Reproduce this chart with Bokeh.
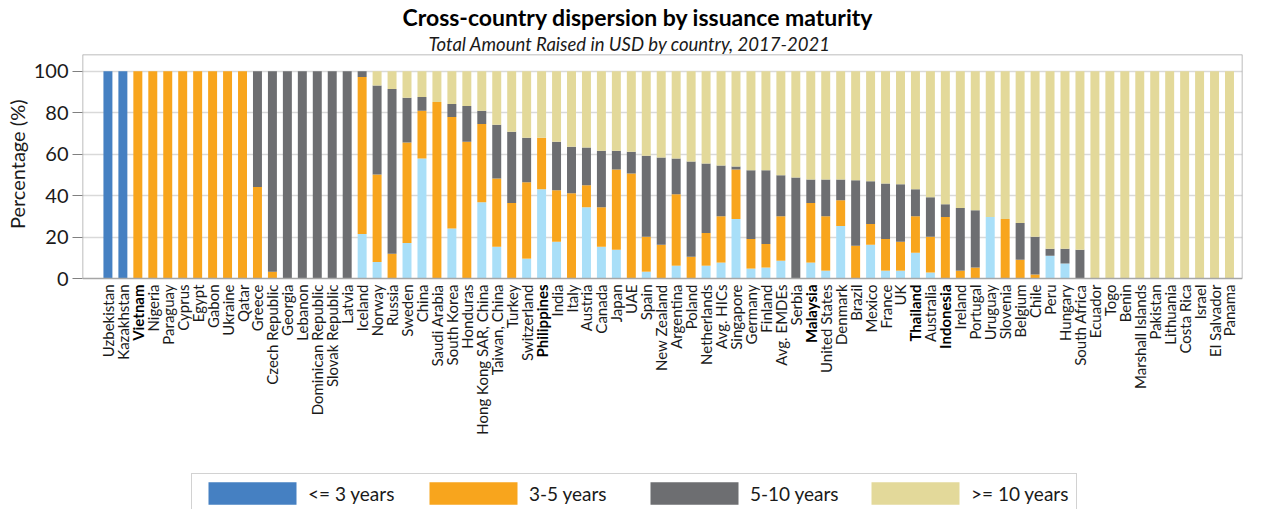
import math
from bokeh.plotting import figure
from bokeh.models import (ColumnDataSource, Range1d, FixedTicker, Title, Legend, LegendItem)
from bokeh.core.properties import value
from bokeh.embed import file_html
from bokeh.resources import INLINE

countries = ["Uzbekistan", "Kazakhstan", "Vietnam", "Nigeria", "Paraguay", "Cyprus", "Egypt",
             "Gabon", "Ukraine", "Qatar", "Greece", "Czech Republic", "Georgia", "Lebanon",
             "Dominican Republic", "Slovak Republic", "Latvia", "Iceland", "Norway", "Russia",
             "Sweden", "China", "Saudi Arabia", "South Korea", "Honduras", "Hong Kong SAR, China",
             "Taiwan, China", "Turkey", "Switzerland", "Philippines", "India", "Italy", "Austria",
             "Canada", "Japan", "UAE", "Spain", "New Zealand", "Argentina", "Poland",
             "Netherlands", "Avg. HICs", "Singapore", "Germany", "Finland", "Avg. EMDEs",
             "Serbia", "Malaysia", "United States", "Denmark", "Brazil", "Mexico", "France",
             "UK", "Thailand", "Australia", "Indonesia", "Ireland", "Portugal", "Uruguay",
             "Slovenia", "Belgium", "Chile", "Peru", "Hungary", "South Africa", "Ecuador",
             "Togo", "Benin", "Marshall Islands", "Pakistan", "Lithuania", "Costa Rica",
             "Israel", "El Salvador", "Panama"]
bold_countries = ["Vietnam", "Philippines", "Malaysia", "Thailand", "Indonesia"]

le3 = [100, 100, 0, 0, 0, 0, 0, 0, 0, 0, 0, 0, 0, 0, 0, 0, 0, 21.5, 8.0, 0,
       17.1, 57.9, 0, 24.1, 0, 36.8, 15.3, 0, 9.6, 43.1, 17.7, 0, 34.4, 15.3, 13.9, 0,
       3.3, 0, 6.2, 0, 6.2, 7.7, 28.7, 4.8, 5.3, 8.6, 0, 7.7, 3.8, 25.4, 0, 16.3, 3.8,
       3.8, 12.4, 2.9, 0, 0, 0, 29.7, 0, 0, 0, 11.0, 7.2, 0, 0, 0, 0, 0, 0, 0, 0, 0, 0, 0]
y3to5 = [0, 0, 100, 100, 100, 100, 100, 100, 100, 100, 44.2, 3.3, 0, 0, 0, 0, 0, 75.8, 42.2, 12.0,
         48.5, 23.0, 85.2, 53.9, 66.0, 37.8, 33.0, 36.4, 36.8, 24.8, 24.9, 41.1, 10.6, 19.1, 38.7, 50.7,
         16.8, 16.3, 34.5, 10.5, 15.8, 22.4, 23.9, 14.3, 11.4, 21.5, 0, 28.7, 26.3, 12.4, 15.8, 10.0, 15.3,
         13.9, 17.7, 17.2, 29.7, 3.8, 5.3, 0, 28.7, 9.1, 1.9, 0, 0, 0, 0, 0, 0, 0, 0, 0, 0, 0, 0, 0]
y5to10 = [0, 0, 0, 0, 0, 0, 0, 0, 0, 0, 55.8, 96.7, 100, 100, 100, 100, 100, 2.7, 42.9, 79.5,
          21.6, 6.7, 0, 6.2, 17.3, 6.3, 25.9, 34.4, 21.5, 0, 23.4, 22.5, 18.2, 27.3, 9.1, 10.5,
          39.2, 42.1, 17.2, 46.0, 33.5, 24.4, 1.5, 33.1, 35.5, 19.7, 48.8, 11.4, 17.7, 10.0, 31.6, 20.6, 26.8,
          27.8, 13.0, 19.1, 6.2, 30.2, 27.7, 0, 0, 17.7, 18.2, 3.4, 7.2, 13.9, 0, 0, 0, 0, 0, 0, 0, 0, 0, 0]
ge10 = [0, 0, 0, 0, 0, 0, 0, 0, 0, 0, 0, 0, 0, 0, 0, 0, 0, 0, 6.9, 8.5,
        12.8, 12.4, 14.8, 15.8, 16.7, 19.1, 25.8, 29.2, 32.1, 32.1, 34.0, 36.4, 36.8, 38.3, 38.3, 38.8,
        40.7, 41.6, 42.1, 43.5, 44.5, 45.5, 45.9, 47.8, 47.8, 50.2, 51.2, 52.2, 52.2, 52.2, 52.6, 53.1, 54.1,
        54.5, 56.9, 60.8, 64.1, 66.0, 67.0, 70.3, 71.3, 73.2, 79.9, 85.6, 85.6, 86.1,
        100, 100, 100, 100, 100, 100, 100, 100, 100, 100]

y_ticks = [0, 20, 40, 60, 80, 100]
series_labels = ["<= 3 years", "3-5 years", "5-10 years", ">= 10 years"]

DARK_BLUE = "#4580C2"
LIGHT_BLUE = "#A9DFF8"
ORANGE = "#F8A51D"
GREY = "#6D6E71"
BEIGE = "#E3D99A"
FRAME = "#A6A6A6"
FONT = "Lato"
TXT = "#1a1a1a"

n = len(countries)
xs = list(range(n))
t1 = [le3[i] for i in range(n)]
t2 = [t1[i] + y3to5[i] for i in range(n)]
t3 = [t2[i] + y5to10[i] for i in range(n)]
t4 = [t3[i] + ge10[i] for i in range(n)]
le3_color = [DARK_BLUE if le3[i] >= 99.9 else LIGHT_BLUE for i in range(n)]
src = ColumnDataSource(dict(x=xs, b1=[0.0] * n, t1=t1, t2=t2, t3=t3, t4=t4, c1=le3_color))

# layout constants (pixels)
W, H = 1250, 509
TOP, LEFT, RIGHT = 50, 78, 8
CHART_PX = 226           # height of the bar area (0..YMAX)
YMAX = 108.1
k = CHART_PX / YMAX      # px per percentage point
below_px = H - TOP - CHART_PX
Y0 = -below_px / k
X0, X1 = -1.7, 75.87

p = figure(width=W, height=H, output_backend="svg", toolbar_location=None, title=None,
           x_range=Range1d(X0, X1), y_range=Range1d(Y0, YMAX),
           min_border_left=LEFT, min_border_right=RIGHT, min_border_top=TOP, min_border_bottom=0)
p.outline_line_color = None
p.background_fill_color = None
p.xaxis.visible = False

w = 0.6
r1 = p.vbar(x="x", bottom="b1", top="t1", width=w, source=src, fill_color="c1", line_color=None)
r2 = p.vbar(x="x", bottom="t1", top="t2", width=w, source=src, fill_color=ORANGE, line_color=None)
r3 = p.vbar(x="x", bottom="t2", top="t3", width=w, source=src, fill_color=GREY, line_color=None)
r4 = p.vbar(x="x", bottom="t3", top="t4", width=w, source=src, fill_color=BEIGE, line_color=None)

# chart box
p.segment(x0=[X0, X0, X0, X1], y0=[0, YMAX, 0, 0], x1=[X1, X1, X0, X1], y1=[0, YMAX, YMAX, YMAX],
          line_color=FRAME, line_width=1.5)

p.xgrid.grid_line_color = None
p.ygrid.ticker = FixedTicker(ticks=y_ticks[1:])
p.ygrid.grid_line_color = "#D9D9D9"
p.ygrid.grid_line_width = 1.5
p.ygrid.level = "underlay"

p.yaxis.ticker = FixedTicker(ticks=y_ticks)
p.yaxis.major_label_text_font = FONT
p.yaxis.major_label_text_font_size = "20px"
p.yaxis.major_label_text_color = TXT
p.yaxis.major_label_standoff = 4
p.yaxis.axis_line_color = None
p.yaxis.major_tick_line_color = "#808080"
p.yaxis.minor_tick_line_color = None
p.yaxis.major_tick_in = 0
p.yaxis.major_tick_out = 10

p.add_layout(Title(text="Percentage (%)", align="right", offset=45,
                   text_font=FONT, text_font_style="normal", text_font_size="20px",
                   text_color=TXT, standoff=4), "left")

# category labels below the bars
lab_y = -6 / k
norm_i = [i for i in range(n) if countries[i] not in bold_countries]
bold_i = [i for i in range(n) if countries[i] in bold_countries]
lab_norm = ColumnDataSource(dict(x=norm_i, y=[lab_y] * len(norm_i), t=[countries[i] for i in norm_i]))
lab_bold = ColumnDataSource(dict(x=bold_i, y=[lab_y] * len(bold_i), t=[countries[i] for i in bold_i]))
p.text(x="x", y="y", text="t", source=lab_norm, angle=math.pi / 2, text_align="right",
       text_baseline="middle", text_font=value(FONT), text_font_size="15px", text_color=TXT)
p.text(x="x", y="y", text="t", source=lab_bold, angle=math.pi / 2, text_align="right",
       text_baseline="middle", text_font=value(FONT), text_font_style="bold",
       text_font_size="15px", text_color="#000000")

p.add_layout(Title(text="Total Amount Raised in USD by country, 2017-2021", align="left",
                   offset=346, text_font=FONT, text_font_style="italic", text_font_size="18.5px",
                   text_color=TXT, standoff=0), "above")
p.add_layout(Title(text="Cross-country dispersion by issuance maturity", align="left",
                   offset=320, text_font=FONT, text_font_style="bold", text_font_size="23px",
                   text_color="#000000", standoff=0), "above")

legend = Legend(items=[LegendItem(label=series_labels[0], renderers=[r1], index=0),
                       LegendItem(label=series_labels[1], renderers=[r2], index=0),
                       LegendItem(label=series_labels[2], renderers=[r3], index=0),
                       LegendItem(label=series_labels[3], renderers=[r4], index=0)],
                orientation="horizontal", location=(109, -4),
                glyph_width=110, glyph_height=28, label_standoff=1, spacing=10,
                label_width=100, label_height=22, padding=5, margin=0,
                border_line_color=FRAME, border_line_width=1.5,
                label_text_font=FONT, label_text_font_size="19px", label_text_color=TXT,
                background_fill_color="white", background_fill_alpha=1)
p.add_layout(legend)

open("out.html", "w").write(file_html(p, INLINE))
